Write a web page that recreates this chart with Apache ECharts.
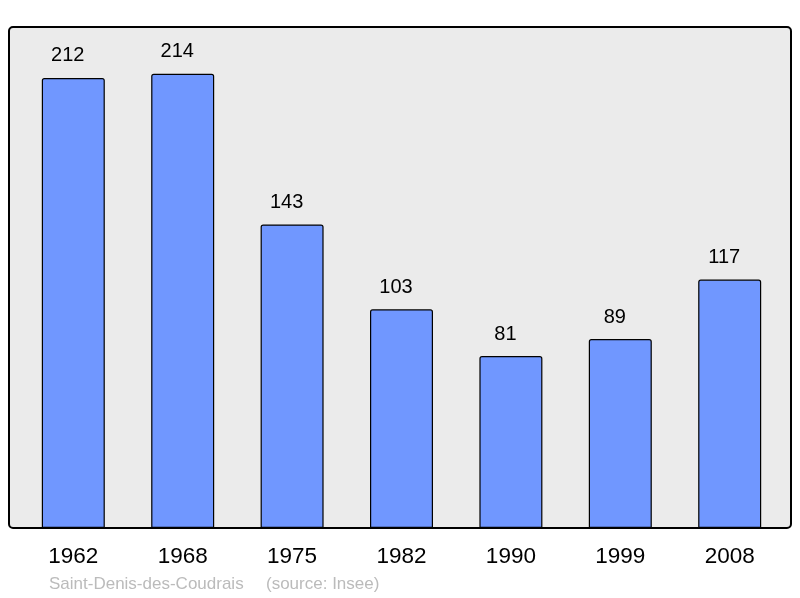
<!DOCTYPE html>
<html><head><meta charset="utf-8">
<script src="https://cdn.jsdelivr.net/npm/echarts@6/dist/echarts.min.js"></script>
<style>html,body{margin:0;padding:0;background:#fff}#c{width:800px;height:598px}</style>
</head><body><div id="c"></div>
<script>
const categories = ['1962','1968','1975','1982','1990','1999','2008'];
const populations = [212,214,143,103,81,89,117];
const captionName = 'Saint-Denis-des-Coudrais';
const captionSource = '(source: Insee)';

const chart = echarts.init(document.getElementById('c'), null, {renderer:'canvas'});
chart.setOption({
  animation:false,
  backgroundColor:'#ffffff',
  graphic:[
    {type:'rect', z:-10, shape:{x:9,y:27,width:782,height:501,r:4},
     style:{fill:'#ebebeb',stroke:'#000',lineWidth:2}},
    {type:'text', left:49, top:576, style:{text:captionName, fill:'#bbbbbb', font:'17px "Liberation Sans", Arial, sans-serif'}},
    {type:'text', left:266, top:576, style:{text:captionSource, fill:'#bbbbbb', font:'17px "Liberation Sans", Arial, sans-serif'}}
  ],
  grid:{left:18.6, right:15.6, top:27, bottom:70},
  xAxis:{type:'category', data:categories,
    axisLine:{show:false}, axisTick:{show:false},
    axisLabel:{color:'#000', fontSize:22.5, fontFamily:'Liberation Sans', margin:17}},
  yAxis:{type:'value', min:0, max:236, show:false, splitLine:{show:false}},
  series:[{type:'bar', data:populations, barWidth:63,
    itemStyle:{color:'#7097ff', borderColor:'#000', borderWidth:1.2, borderRadius:[2,2,0,0]},
    label:{show:true, position:'top', distance:12, offset:[-5.5,0], color:'#000', fontSize:20, fontFamily:'Liberation Sans'}}]
});
</script></body></html>
